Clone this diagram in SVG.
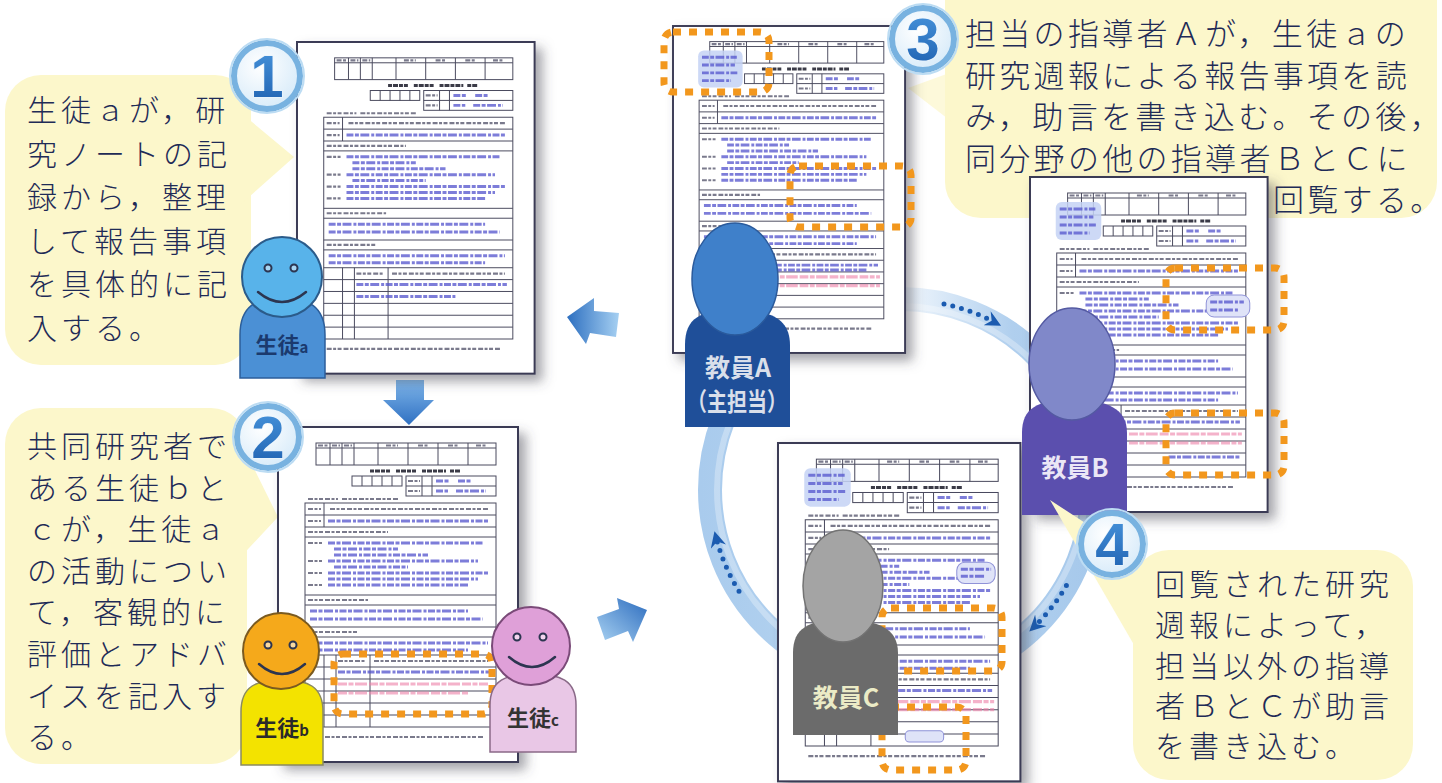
<svg xmlns="http://www.w3.org/2000/svg" xmlns:xlink="http://www.w3.org/1999/xlink" width="1442" height="783" viewBox="0 0 1442 783">
  <style>
    .callout { fill: #fcf7cb; }
    .ct { font-family: "Noto Sans CJK JP", "Noto Sans CJK SC", sans-serif; font-weight: 300; font-size: 30px; letter-spacing: 4px; fill: #1f2b57; }
    .ct3 { font-family: "Noto Sans CJK JP", "Noto Sans CJK SC", sans-serif; font-weight: 300; font-size: 31px; letter-spacing: 3.3px; fill: #1f2b57; }
    .sheet { fill: #ffffff; stroke: #3b3b55; stroke-width: 2; }
    .ln { fill: none; stroke: #4a4a5e; stroke-width: 1; }
    .gt { fill: none; stroke: #7a7a8c; stroke-width: 2.2; stroke-dasharray: 5 1.5 3 1.5 4 2; }
    .tt { fill: none; stroke: #3a3a46; stroke-width: 3; stroke-dasharray: 4 1 5 1; }
    .bt { fill: none; stroke: #5252cc; stroke-width: 3; stroke-opacity: 0.75; stroke-dasharray: 7 1.5 4 1.5 9 2 3 1.5; }
    .pk { fill: none; stroke: #ec7fa6; stroke-width: 3.2; stroke-opacity: 0.6; stroke-dasharray: 9 1.5 5 1.5 12 2; }
    .stamp { fill: #c4d2f4; fill-opacity: 0.85; }
    .note { fill: #dfe3f8; stroke: #8f92d8; stroke-width: 1; }
    .hl { fill: none; stroke: #f2971d; stroke-width: 7; stroke-dasharray: 8 8; }
    .badge-ring { fill: url(#badgeFill); stroke: #78b2e0; stroke-width: 6; }
    .badge-edge { fill: none; stroke: #bcdcf3; stroke-width: 2; }
    .badge-num { font-family: "Liberation Sans", Arial, sans-serif; font-weight: bold; font-size: 60px; text-anchor: middle; fill: url(#numFill); stroke: #eaf4fc; stroke-width: 1.5; paint-order: stroke; }
    .face { fill: none; stroke: #2c3550; stroke-width: 2.5; stroke-linecap: round; }
    .eye { stroke: #2c3550; stroke-width: 2; }
    .slabel { font-family: "Noto Sans CJK JP", sans-serif; font-weight: bold; font-size: 22px; text-anchor: middle; }
    .tlabel { font-family: "Noto Sans CJK JP", sans-serif; font-weight: bold; font-size: 25px; text-anchor: middle; }
    .dots { fill: none; stroke: #1b5bb0; stroke-width: 5; stroke-linecap: round; stroke-dasharray: 0 9; }
  </style>
  <defs>
    <filter id="docShadow" x="-10%" y="-10%" width="125%" height="125%">
      <feDropShadow dx="7" dy="7" stdDeviation="6" flood-color="#4a4a55" flood-opacity="0.5"/>
    </filter>
    <radialGradient id="badgeFill" cx="0.4" cy="0.35" r="0.7">
      <stop offset="0" stop-color="#ffffff"/>
      <stop offset="1" stop-color="#d6eaf9"/>
    </radialGradient>
    <linearGradient id="numFill" x1="0" y1="0" x2="0" y2="1">
      <stop offset="0" stop-color="#4a97de"/>
      <stop offset="1" stop-color="#1c5eae"/>
    </linearGradient>
    <linearGradient id="ringFill" gradientUnits="userSpaceOnUse" x1="700" y1="0" x2="1100" y2="0">
      <stop offset="0" stop-color="#a9cbed"/>
      <stop offset="0.3" stop-color="#b3d2ef"/>
      <stop offset="0.52" stop-color="#eef5fc"/>
      <stop offset="0.78" stop-color="#b0cfee"/>
      <stop offset="1" stop-color="#a5c8eb"/>
    </linearGradient>
    <linearGradient id="arrowLeft" x1="1" y1="0" x2="0" y2="0">
      <stop offset="0" stop-color="#a6d0f2"/>
      <stop offset="1" stop-color="#2d6fc0"/>
    </linearGradient>
    <linearGradient id="arrowDown" x1="0" y1="0" x2="0" y2="1">
      <stop offset="0" stop-color="#7fb6ea"/>
      <stop offset="1" stop-color="#2f70c2"/>
    </linearGradient>
    <linearGradient id="arrowRight" x1="0" y1="1" x2="1" y2="0">
      <stop offset="0" stop-color="#a9d2f2"/>
      <stop offset="1" stop-color="#2c6cbe"/>
    </linearGradient>
    <marker id="chev" viewBox="0 0 12 12" refX="6" refY="6" markerWidth="16" markerHeight="16" markerUnits="userSpaceOnUse" orient="auto">
      <path d="M0,0 L12,6 L0,12 L4,6 Z" fill="#1b5bb0"/>
    </marker>

    <!-- blank weekly report form, local size 240 x 335 -->
    <g id="form">
      <rect class="sheet" x="0" y="0" width="240" height="335"/>
      <rect class="ln" x="38" y="16" width="180" height="22"/>
      <path class="ln" d="M38,21H218M52,16V38M64,16V38M76,16V38M100,16V38M130,16V38M160,16V38M190,16V38"/>
      <path class="gt" d="M40,18.5H50M54,18.5H62M66,18.5H74M108,18.5H120M140,18.5H150M170,18.5H180M198,18.5H208"/>
      <path class="tt" d="M92,44H112M118,44H138M144,44H168M172,44H182"/>
      <rect class="ln" x="74" y="49" width="50" height="10"/>
      <path class="ln" d="M84,49V59M94,49V59M104,49V59M114,49V59"/>
      <rect class="ln" x="128" y="49" width="90" height="20"/>
      <path class="ln" d="M128,59H218M144,49V69M154,49V69"/>
      <path class="gt" d="M130,54H142M130,64H142"/>
      <path class="bt" d="M158,54H172M180,54H194M158,64H170M178,64H208"/>
      <path class="gt" d="M30,72H60M64,72H120"/>
      <rect class="ln" x="27" y="76" width="191" height="224"/>
      <path class="ln" d="M27,88H218M27,100H218M27,110H218M27,168H218M27,178H218M27,200H218M27,210H218M27,228H218M46,76V100"/>
      <path class="gt" d="M30,82H43M52,82H210M30,94H43"/>
      <path class="bt" d="M50,94H210"/>
      <path class="gt" d="M30,105H110M30,116H44M30,134H44M30,146H44M30,158H44"/>
      <path class="bt" d="M50,116H205M56,122H120M56,128H150M50,134H200M56,140H130M50,146H210M50,152H200M50,158H190"/>
      <path class="gt" d="M30,173H90M30,205H80"/>
      <path class="bt" d="M32,184H190M32,192H205M32,216H210M32,223H190"/>
      <path class="ln" d="M27,240H218M27,252H218M27,264H218M27,276H218M27,288H218M46,228V300M58,228V300M92,228V300"/>
      <path class="gt" d="M60,234H88M96,234H210M30,310H205"/>
    </g>
  </defs>

  <rect width="1442" height="783" fill="#ffffff"/>

  <!-- cycle ring and flow arrows -->
  <g id="connectors">
    <circle cx="901" cy="490" r="191" fill="none" stroke="url(#ringFill)" stroke-width="24"/>
    <circle cx="901" cy="490" r="184" fill="none" stroke="#ffffff" stroke-opacity="0.3" stroke-width="6"/>
    <path class="dots" d="M944,303.9 A191,191 0 0 1 994,322" marker-end="url(#chev)"/>
    <path class="dots" d="M1066.4,585.5 A191,191 0 0 1 1035,626" marker-end="url(#chev)"/>
    <path class="dots" d="M739,591.2 A191,191 0 0 1 716.5,539" marker-end="url(#chev)"/>
    <polygon id="arrow-to-1" points="567,317 594,298 594,311 619,313 616,337 590,333 586,344" fill="url(#arrowLeft)"/>
    <polygon id="arrow-1-2" points="396,380 424,380 424,400 434,400 409,425 383,400 396,400" fill="url(#arrowDown)"/>
    <polygon id="arrow-2-3" points="597,617 619,609 617,598 647,610 633,642 628,631 605,640" fill="url(#arrowRight)"/>
  </g>

  <!-- explanation bubbles -->
  <g id="callout1">
    <rect class="callout" x="5" y="75" width="246" height="290" rx="36"/>
    <polygon class="callout" points="240,112 294,157 240,205"/>
    <text class="ct" x="27" y="121">生徒ａが，研</text>
    <text class="ct" x="27" y="164.5">究ノートの記</text>
    <text class="ct" x="27" y="208">録から，整理</text>
    <text class="ct" x="27" y="251.5">して報告事項</text>
    <text class="ct" x="27" y="295">を具体的に記</text>
    <text class="ct" x="27" y="338.5">入する。</text>
  </g>
  <g id="callout2">
    <rect class="callout" x="5" y="408" width="242" height="356" rx="36"/>
    <polygon class="callout" points="236,432 278,517 236,562"/>
    <text class="ct" x="27" y="457">共同研究者で</text>
    <text class="ct" x="27" y="498.6">ある生徒ｂと</text>
    <text class="ct" x="27" y="540.2">ｃが，生徒ａ</text>
    <text class="ct" x="27" y="581.8">の活動につい</text>
    <text class="ct" x="27" y="623.4">て，客観的に</text>
    <text class="ct" x="27" y="665">評価とアドバ</text>
    <text class="ct" x="27" y="706.6">イスを記入す</text>
    <text class="ct" x="27" y="748.2">る。</text>
  </g>
  <g id="callout3">
    <rect class="callout" x="945" y="-40" width="492" height="258" rx="36"/>
    <polygon class="callout" points="952,72 908,88 952,122" fill-opacity="0.7"/>
    <text class="ct3" x="965" y="45">担当の指導者Ａが，生徒ａの</text>
    <text class="ct3" x="965" y="87">研究週報による報告事項を読</text>
    <text class="ct3" x="965" y="128">み，助言を書き込む。その後，</text>
    <text class="ct3" x="965" y="170">同分野の他の指導者ＢとＣに</text>
    <text class="ct3" x="1273" y="211">回覧する。</text>
  </g>

  <!-- report sheets -->
  <g id="doc1" filter="url(#docShadow)" transform="translate(297,42) scale(0.99,0.99)">
    <use href="#form"/>
    <path class="bt" d="M60,245H212M60,257H160"/>
  </g>
  <g id="doc2" filter="url(#docShadow)" transform="translate(278,427)">
    <use href="#form"/>
    <path class="bt" d="M60,245H212"/>
    <path class="pk" d="M60,257H210M60,266H190"/>
  </g>
  <g id="docA" filter="url(#docShadow)" transform="translate(673,26) scale(0.967,0.976)">
    <use href="#form"/>
    <rect class="stamp" x="26" y="25" width="46" height="38" rx="6"/>
    <path class="bt" d="M30,32H66M30,40H64M30,48H68M30,56H60"/>
    <path class="bt" d="M60,245H212M60,250H200"/>
    <path class="pk" d="M100,257H214M100,266H214M60,262H96"/>
  </g>
  <g id="docB" filter="url(#docShadow)" transform="translate(1030,177) scale(0.99,1.0)">
    <use href="#form"/>
    <rect class="stamp" x="26" y="25" width="46" height="38" rx="6"/>
    <path class="bt" d="M30,32H66M30,40H64M30,48H68M30,56H60"/>
    <rect class="note" x="178" y="118" width="44" height="22" rx="8"/>
    <path class="bt" d="M182,125H216M182,133H210"/>
    <path class="bt" d="M60,245H212"/>
    <path class="pk" d="M100,257H214M100,266H214"/>
    <path class="bt" d="M140,280H212"/>
  </g>
  <g id="docC" filter="url(#docShadow)" transform="translate(778,443) scale(1.01,1.01)">
    <use href="#form"/>
    <rect class="stamp" x="26" y="25" width="46" height="38" rx="6"/>
    <path class="bt" d="M30,32H66M30,40H64M30,48H68M30,56H60"/>
    <rect class="note" x="177" y="118" width="38" height="21" rx="8"/>
    <path class="bt" d="M181,125H211M181,132H206"/>
    <path class="bt" d="M60,245H212"/>
    <path class="pk" d="M100,256H214M100,264H214"/>
    <rect class="note" x="126" y="285" width="38" height="11" rx="4"/>
  </g>

  <!-- advice areas marked on the sheets -->
  <g id="marks">
    <rect class="hl" x="664" y="32" width="105" height="60" rx="9"/>
    <rect class="hl" x="790" y="166" width="121" height="61" rx="9"/>
    <rect class="hl" x="1166" y="268" width="118" height="62" rx="9"/>
    <rect class="hl" x="1166" y="413" width="118" height="62" rx="9"/>
    <rect class="hl" x="882" y="608" width="120" height="63" rx="9"/>
    <rect class="hl" x="882" y="707" width="84" height="63" rx="9"/>
    <rect class="hl" x="334" y="654" width="158" height="60" rx="9"/>
  </g>

  <!-- students -->
  <g id="studentA">
    <path d="M240,378 V335 C240,306 256,298 282,298 C308,298 325,306 325,335 V378 Z" fill="#4b90d5" stroke="#2c5e9a" stroke-width="1.5"/>
    <circle cx="282" cy="277" r="40" fill="#58b3ea" stroke="#2b5b8a" stroke-width="2"/>
    <circle class="eye" cx="268" cy="268" r="3.5" fill="#a9d6f3"/>
    <circle class="eye" cx="294" cy="268" r="3.5" fill="#a9d6f3"/>
    <path class="face" d="M258,292 Q282,312 306,292"/>
    <text class="slabel" x="282" y="353" fill="#1b3a6e">生徒<tspan font-size="15">a</tspan></text>
  </g>
  <g id="studentB">
    <path d="M241,765 V712 C241,686 256,680 282,680 C308,680 323,686 323,712 V765 Z" fill="#f3e300" stroke="#8a8a60" stroke-width="1.5"/>
    <circle cx="281" cy="651" r="38" fill="#f5a91b" stroke="#7a5a20" stroke-width="2"/>
    <circle class="eye" cx="268" cy="645" r="3.5" fill="#f8d9a0"/>
    <circle class="eye" cx="293" cy="645" r="3.5" fill="#f8d9a0"/>
    <path class="face" d="M259,664 Q282,684 305,664"/>
    <text class="slabel" x="282" y="736" fill="#2a2a2a">生徒<tspan font-size="15">b</tspan></text>
  </g>
  <g id="studentC">
    <path d="M490,752 V705 C490,680 506,674 533,674 C560,674 576,680 576,705 V752 Z" fill="#e9c7e6" stroke="#8a6a88" stroke-width="1.5"/>
    <circle cx="531" cy="646" r="39" fill="#dfa0d8" stroke="#7a4a78" stroke-width="2"/>
    <circle class="eye" cx="517" cy="637" r="3.5" fill="#f3d6ef"/>
    <circle class="eye" cx="543" cy="637" r="3.5" fill="#f3d6ef"/>
    <path class="face" d="M509,657 Q532,677 555,657"/>
    <text class="slabel" x="533" y="726" fill="#333333">生徒<tspan font-size="15">c</tspan></text>
  </g>

  <!-- teachers -->
  <g id="teacherA">
    <path d="M685,427 V345 C685,318 700,310 735,310 C770,310 790,318 790,345 V427 Z" fill="#1f4f99"/>
    <ellipse cx="735" cy="279" rx="43" ry="56" fill="#3f80ca" stroke="#2a5a9c" stroke-width="1.5"/>
    <text class="tlabel" x="738" y="377" font-size="24" fill="#d9dfea">教員A</text>
    <text class="tlabel" x="737" y="411" font-size="22" textLength="100" lengthAdjust="spacingAndGlyphs" fill="#d9dfea">（主担当）</text>
  </g>
  <g id="teacherB">
    <path d="M1022,515 V433 C1022,408 1037,400 1072,400 C1107,400 1127,408 1127,433 V515 Z" fill="#5b4fae"/>
    <ellipse cx="1072" cy="364" rx="43" ry="56" fill="#8088c9" stroke="#545aa2" stroke-width="1.5"/>
    <text class="tlabel" x="1075" y="477" fill="#ebe7f6">教員B</text>
  </g>
  <g id="teacherC">
    <path d="M793,735 V653 C793,628 808,620 843,620 C878,620 898,628 898,653 V735 Z" fill="#6b6b6b"/>
    <ellipse cx="843" cy="586" rx="40" ry="56" fill="#a4a4a4" stroke="#737373" stroke-width="1.5"/>
    <text class="tlabel" x="846" y="707" fill="#ebebc6">教員C</text>
  </g>

  <g id="callout4">
    <rect class="callout" x="1133" y="550" width="280" height="230" rx="36"/>
    <polygon class="callout" points="1050,500 1145,562 1137,650"/>
    <text class="ct" x="1155" y="595">回覧された研究</text>
    <text class="ct" x="1155" y="636">週報によって，</text>
    <text class="ct" x="1155" y="677">担当以外の指導</text>
    <text class="ct" x="1155" y="717">者ＢとＣが助言</text>
    <text class="ct" x="1155" y="757">を書き込む。</text>
  </g>

  <!-- step numbers -->
  <g id="badge1">
    <circle class="badge-ring" cx="267" cy="76" r="33"/>
    <circle class="badge-edge" cx="267" cy="76" r="37"/>
    <text class="badge-num" x="267" y="97">1</text>
  </g>
  <g id="badge2">
    <circle class="badge-ring" cx="268" cy="437" r="31"/>
    <circle class="badge-edge" cx="268" cy="437" r="35"/>
    <text class="badge-num" x="268" y="458">2</text>
  </g>
  <g id="badge3">
    <circle class="badge-ring" cx="923" cy="39" r="31"/>
    <circle class="badge-edge" cx="923" cy="39" r="35"/>
    <text class="badge-num" x="923" y="60">3</text>
  </g>
  <g id="badge4">
    <circle class="badge-ring" cx="1112" cy="544" r="31"/>
    <circle class="badge-edge" cx="1112" cy="544" r="35"/>
    <text class="badge-num" x="1112" y="565">4</text>
  </g>
</svg>
